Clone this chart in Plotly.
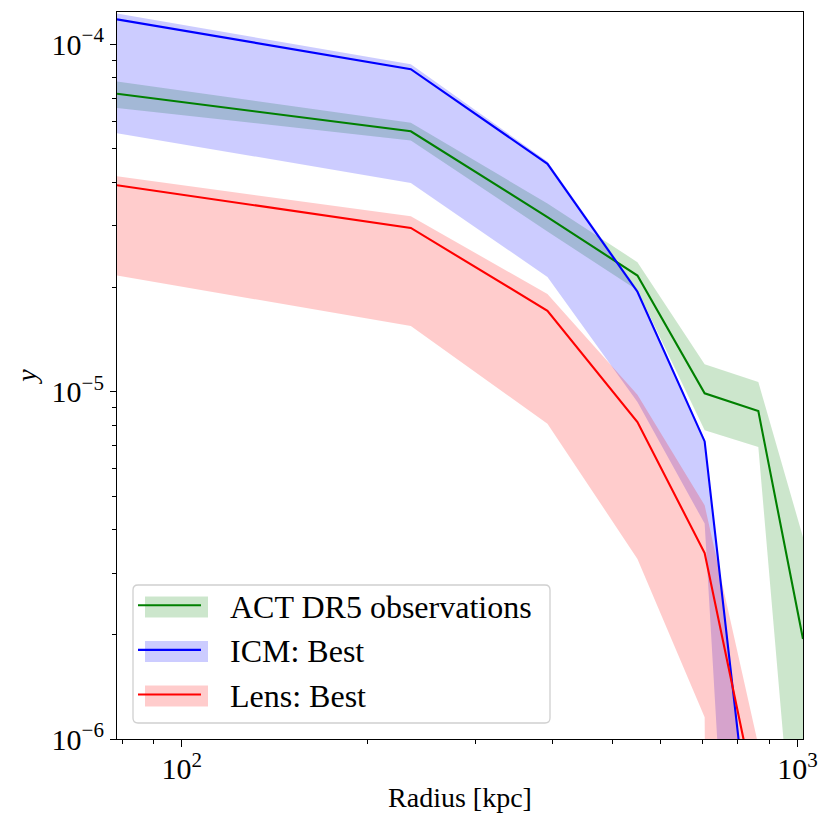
import plotly.graph_objects as go
import numpy as np

# ---- data ----
radius_kpc = [78.5, 235.5, 392.5, 549.5, 706.5, 863.5, 1020.5]

obs_y  = [7.21e-5, 5.62e-5, 3.18e-5, 2.16e-5, 9.89e-6, 8.79e-6, 1.94e-6]
obs_hi = [7.82e-5, 5.95e-5, 3.48e-5, 2.36e-5, 1.20e-5, 1.066e-5, 3.81e-6]
obs_lo = [6.56e-5, 5.29e-5, 2.89e-5, 1.96e-5, 7.74e-6, 6.93e-6, 2.2e-7]

icm_y  = [1.18e-4, 8.48e-5, 4.53e-5, 1.94e-5, 7.19e-6, 3.16e-7, 1.0e-9]
icm_hi = [1.226e-4, 8.76e-5, 4.60e-5, 1.97e-5, 7.29e-6, 3.3e-7, 1.1e-9]
icm_lo = [5.55e-5, 3.99e-5, 2.14e-5, 9.33e-6, 4.17e-6, 9.3e-9, 1e-11]

lens_y  = [3.93e-5, 2.96e-5, 1.71e-5, 8.18e-6, 3.43e-6, 6.25e-7, 1e-8]
lens_hi = [4.17e-5, 3.20e-5, 1.91e-5, 9.80e-6, 4.71e-6, 9.6e-7, 2e-8]
lens_lo = [2.16e-5, 1.545e-5, 8.09e-6, 3.30e-6, 1.156e-6, 1e-30, 1e-30]

series_names = ["ACT DR5 observations", "ICM: Best", "Lens: Best"]
x_tickvals = [100, 1000]
x_ticktext = ["10<sup>2</sup>", "10<sup>3</sup>"]
y_tickvals = [1e-6, 1e-5, 1e-4]
y_ticktext = ["10<sup>\u22126</sup>", "10<sup>\u22125</sup>", "10<sup>\u22124</sup>"]

series = [
    (series_names[0], obs_y, obs_lo, obs_hi, "#008000", "rgba(0,128,0,0.2)"),
    (series_names[1], icm_y, icm_lo, icm_hi, "#0000ff", "rgba(0,0,255,0.2)"),
    (series_names[2], lens_y, lens_lo, lens_hi, "#ff0000", "rgba(255,0,0,0.2)"),
]

FONT = "Liberation Serif"
OFF = 8                      # browser body margin
W, H = 814, 814
L, R, T, B = 109, 19, 4, 83
PW, PH = W - L - R, H - T - B

fig = go.Figure()
for name, yv, lo, hi, col, fcol in series:
    fig.add_trace(go.Scatter(
        x=radius_kpc + radius_kpc[::-1], y=hi + lo[::-1],
        fill="toself", fillcolor=fcol, line=dict(width=0),
        mode="lines", showlegend=False, hoverinfo="skip", legendgroup=name))
for name, yv, lo, hi, col, fcol in series:
    fig.add_trace(go.Scatter(
        x=radius_kpc, y=yv, mode="lines",
        name="\u00a0\u00a0\u00a0" + name, legendgroup=name,
        line=dict(color=col, width=2.1)))

# reference-pixel -> paper helpers (reference px include the 8px page offset)
def px2paper_x(px):
    return (px - OFF - L) / PW

def px2paper_y(py):
    return (H - B - (py - OFF)) / PH

shapes = []
x0, x1 = px2paper_x(133), px2paper_x(550)
y1, y0 = px2paper_y(585), px2paper_y(723)
rx, ry = 5 / PW, 5 / PH
path = (f"M {x0+rx},{y1} L {x1-rx},{y1} Q {x1},{y1} {x1},{y1-ry} "
        f"L {x1},{y0+ry} Q {x1},{y0} {x1-rx},{y0} L {x0+rx},{y0} "
        f"Q {x0},{y0} {x0},{y0+ry} L {x0},{y1-ry} Q {x0},{y1} {x0+rx},{y1} Z")
shapes.append(dict(type="path", xref="paper", yref="paper", path=path,
                   fillcolor="rgba(255,255,255,0.8)",
                   line=dict(color="#d0d0d0", width=1.3), layer="above"))
row_c = [607, 651.5, 696]
for (name, yv, lo, hi, col, fcol), rc in zip(series, row_c):
    shapes.append(dict(type="rect", xref="paper", yref="paper",
                       x0=px2paper_x(145), x1=px2paper_x(208),
                       y0=px2paper_y(rc + 10.5), y1=px2paper_y(rc - 10.5),
                       fillcolor=fcol, line=dict(width=0), layer="above"))

fig.update_layout(
    width=W, height=H,
    margin=dict(l=L, r=R, t=T, b=B, pad=0),
    paper_bgcolor="white", plot_bgcolor="white",
    font=dict(family=FONT, size=30, color="black"),
    shapes=shapes,
    showlegend=True,
    legend=dict(x=px2paper_x(133), y=px2paper_y(578), xanchor="left", yanchor="top",
                bgcolor="rgba(0,0,0,0)", borderwidth=0, itemwidth=63,
                font=dict(family=FONT, size=32), tracegroupgap=0,
                itemclick=False, itemdoubleclick=False),
    xaxis=dict(type="log", range=[np.log10(radius_kpc[0]), np.log10(radius_kpc[-1])],
               showgrid=False, zeroline=False, showline=True, mirror=True,
               linecolor="black", linewidth=1.2,
               ticks="outside", ticklen=7, tickwidth=1.2, tickcolor="black",
               tickvals=x_tickvals, ticktext=x_ticktext,
               tickfont=dict(family=FONT, size=30), ticklabelstandoff=-4,
               minor=dict(ticks="outside", ticklen=4, tickwidth=1, tickcolor="black",
                          tickvals=[80, 90, 200, 300, 400, 500, 600, 700, 800, 900], showgrid=False),
               title=dict(text="Radius [kpc]", font=dict(family=FONT, size=28), standoff=3)),
    yaxis=dict(type="log", range=[-6, np.log10(1.239e-4)],
               showgrid=False, zeroline=False, showline=True, mirror=True,
               linecolor="black", linewidth=1.2,
               ticks="outside", ticklen=6, tickwidth=1.2, tickcolor="black",
               tickvals=y_tickvals, ticktext=y_ticktext,
               tickfont=dict(family=FONT, size=30),
               minor=dict(ticks="outside", ticklen=3.5, tickwidth=1, tickcolor="black",
                          tickvals=[k * 1e-6 for k in range(2, 10)] + [k * 1e-5 for k in range(2, 10)],
                          showgrid=False),
               title=dict(text="<i>y</i>", font=dict(family=FONT, size=28), standoff=6)),
)

fig.write_html("out.html")
